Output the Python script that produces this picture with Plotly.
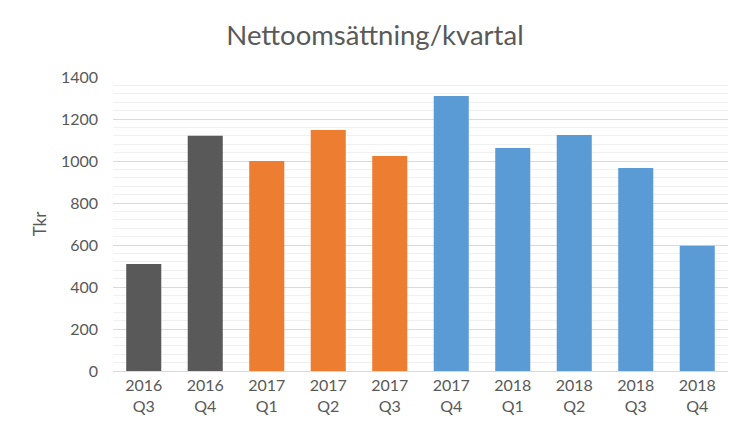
import plotly.graph_objects as go

# Quarterly net sales (Tkr)
quarters = ["2016<br>Q3", "2016<br>Q4", "2017<br>Q1", "2017<br>Q2", "2017<br>Q3",
            "2017<br>Q4", "2018<br>Q1", "2018<br>Q2", "2018<br>Q3", "2018<br>Q4"]
sales = [510, 1120, 1000, 1148, 1024, 1310, 1062, 1124, 967, 597]
years = ["2016", "2016", "2017", "2017", "2017", "2017", "2018", "2018", "2018", "2018"]

year_colors = {"2016": "#595959", "2017": "#ED7D31", "2018": "#5B9BD5"}
# 2017 Q4 is drawn in the 2018 colour in the original
bar_colors = [year_colors[y] for y in years]
bar_colors[5] = year_colors["2018"]

font_family = "Lato, 'Open Sans', sans-serif"
text_color = "#595959"

fig = go.Figure(go.Bar(x=quarters, y=sales, marker=dict(color=bar_colors, line=dict(width=0))))

# page body has an 8px margin, so the figure is a bit smaller than the window
fig.update_layout(
    width=734, height=426,
    margin=dict(l=105, r=14, t=69, b=63),
    paper_bgcolor="white", plot_bgcolor="white",
    bargap=0.43,
    showlegend=False,
    font=dict(family=font_family, color=text_color, size=16),
    title=dict(text="Nettoomsättning/kvartal", x=0.5, xanchor="center",
               y=0.935, yanchor="middle", font=dict(size=27.5, color=text_color)),
)

fig.update_yaxes(
    range=[0, 1400], dtick=200, tickfont=dict(size=16),
    showgrid=True, gridcolor="#d9d9d9", gridwidth=1,
    minor=dict(dtick=40, showgrid=True, gridcolor="#f0f0f0", gridwidth=1),
    zeroline=False, showline=False, ticks="", ticklabelstandoff=14,
    title=dict(text="Tkr", font=dict(size=17), standoff=9),
    automargin=False,
)
fig.update_xaxes(
    showline=True, linecolor="#d9d9d9", linewidth=1,
    ticks="", tickfont=dict(size=16), ticklabelstandoff=0,
    automargin=False,
)

fig.write_html("out.html")
